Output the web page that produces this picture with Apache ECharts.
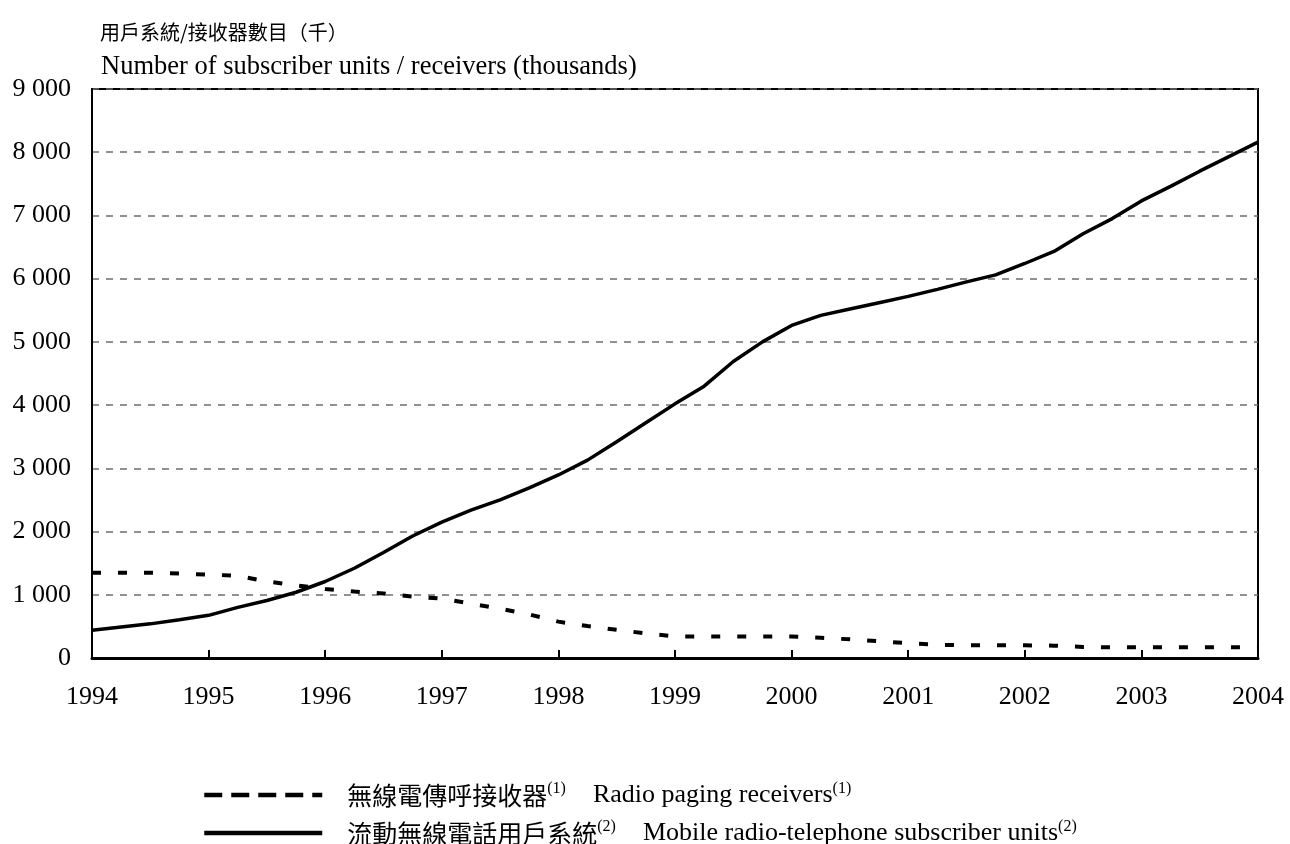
<!DOCTYPE html>
<html>
<head>
<meta charset="utf-8">
<script src="https://cdn.jsdelivr.net/npm/echarts@6/dist/echarts.min.js"></script>
<style>
  html, body { margin: 0; padding: 0; background: #fff; }
</style>
</head>
<body>
<div id="main" style="width:1290px;height:844px;"></div>
<script type="text/javascript">
// 年份刻度 (tick labels)
var years = ['1994', '1995', '1996', '1997', '1998', '1999', '2000', '2001', '2002', '2003', '2004'];

// quarterly categories, one year label every 4 points
var quarters = [];
for (var i = 0; i < years.length; i++) {
    quarters.push(years[i]);
    if (i < years.length - 1) {
        quarters.push(years[i] + 'Q2', years[i] + 'Q3', years[i] + 'Q4');
    }
}

// 無線電傳呼接收器 (thousands)
var pagingValues = [
    1350, 1350, 1350, 1335,
    1320, 1300, 1210, 1150,
    1090, 1050, 1020, 970,
    940, 860, 780, 690,
    575, 505, 445, 390,
    340, 340, 340, 340,
    340, 320, 295, 265,
    235, 210, 200, 200,
    200, 195, 175, 170,
    170, 170, 170, 170,
    170
];

// 流動無線電話用戶系統 (thousands)
var mobileValues = [
    440, 490, 540, 605,
    675, 800, 910, 1040,
    1210, 1420, 1670, 1930,
    2150, 2340, 2500, 2690,
    2895, 3130, 3420, 3720,
    4020, 4300, 4690, 5000,
    5260, 5420, 5520, 5620,
    5720, 5830, 5950, 6060,
    6240, 6430, 6710, 6950,
    7230, 7460, 7700, 7930,
    8160
];

var serif = 'Liberation Serif';
var cjk = 'Noto Sans CJK TC';

var legendNames = {
    paging: '{cn|無線電傳呼接收器}{sup|(1)}{gap|}{en|Radio paging receivers}{sup|(1)}',
    mobile: '{cn|流動無線電話用戶系統}{sup|(2)}{gap|}{en|Mobile radio-telephone subscriber units}{sup|(2)}'
};

var legendRich = {
    cn: { fontFamily: cjk, fontSize: 25, color: '#000', lineHeight: 28 },
    en: { fontFamily: serif, fontSize: 26, color: '#000', lineHeight: 28 },
    sup: { fontFamily: serif, fontSize: 16, color: '#000', verticalAlign: 'top', lineHeight: 28 },
    gap: { width: 27 }
};

function makeLegend(name, top, dash) {
    return {
        orient: 'horizontal',
        left: 197,
        top: top,
        itemWidth: 118,
        itemHeight: 14,
        data: [name],
        formatter: function (n) { return legendNames[n]; },
        itemStyle: { opacity: 0 },
        lineStyle: { color: '#000', width: 4.5, type: dash },
        textStyle: { color: '#000', padding: [0, 0, 0, 20], rich: legendRich }
    };
}

var myChart = echarts.init(document.getElementById('main'));

var option = {
    animation: false,
    title: [{
        text: '用戶系統/接收器數目（千）',
        left: 95,
        top: 17,
        textStyle: { fontFamily: cjk, fontSize: 20, fontWeight: 'normal', color: '#000' }
    }, {
        text: 'Number of subscriber units / receivers (thousands)',
        left: 96,
        top: 49,
        textStyle: { fontFamily: serif, fontSize: 26.5, fontWeight: 'normal', color: '#000' }
    }],
    grid: {
        left: 92,
        right: 32,
        top: 89,
        bottom: 186,
        show: true,
        borderColor: '#000',
        borderWidth: 2,
        containLabel: false
    },
    legend: [
        makeLegend('paging', 776, [18, 9]),
        makeLegend('mobile', 814, 'solid')
    ],
    xAxis: {
        type: 'category',
        data: quarters,
        boundaryGap: false,
        axisLine: { lineStyle: { color: '#000', width: 3 } },
        axisTick: {
            inside: true,
            length: 8,
            interval: 3,
            lineStyle: { color: '#000', width: 2 }
        },
        axisLabel: {
            interval: 3,
            margin: 26,
            color: '#000',
            fontFamily: serif,
            fontSize: 26
        },
        splitLine: { show: false }
    },
    yAxis: {
        type: 'value',
        min: 0,
        max: 9000,
        interval: 1000,
        axisLine: { show: true, lineStyle: { color: '#000', width: 2 } },
        axisTick: { show: false },
        axisLabel: {
            margin: 21,
            color: '#000',
            fontFamily: serif,
            fontSize: 26,
            formatter: function (v) {
                return v >= 1000 ? Math.floor(v / 1000) + ' ' + ('00' + (v % 1000)).slice(-3) : String(v);
            }
        },
        splitLine: {
            lineStyle: { color: '#6e6e6e', width: 1.5, type: [7, 7] }
        }
    },
    series: [{
        name: 'paging',
        type: 'line',
        data: pagingValues,
        symbol: 'none',
        lineStyle: { color: '#000', width: 4, type: [9, 17] },
        itemStyle: { color: '#000' },
        z: 3
    }, {
        name: 'mobile',
        type: 'line',
        data: mobileValues,
        symbol: 'none',
        lineStyle: { color: '#000', width: 3.5 },
        itemStyle: { color: '#000' },
        z: 4
    }]
};

myChart.setOption(option);
</script>
</body>
</html>
